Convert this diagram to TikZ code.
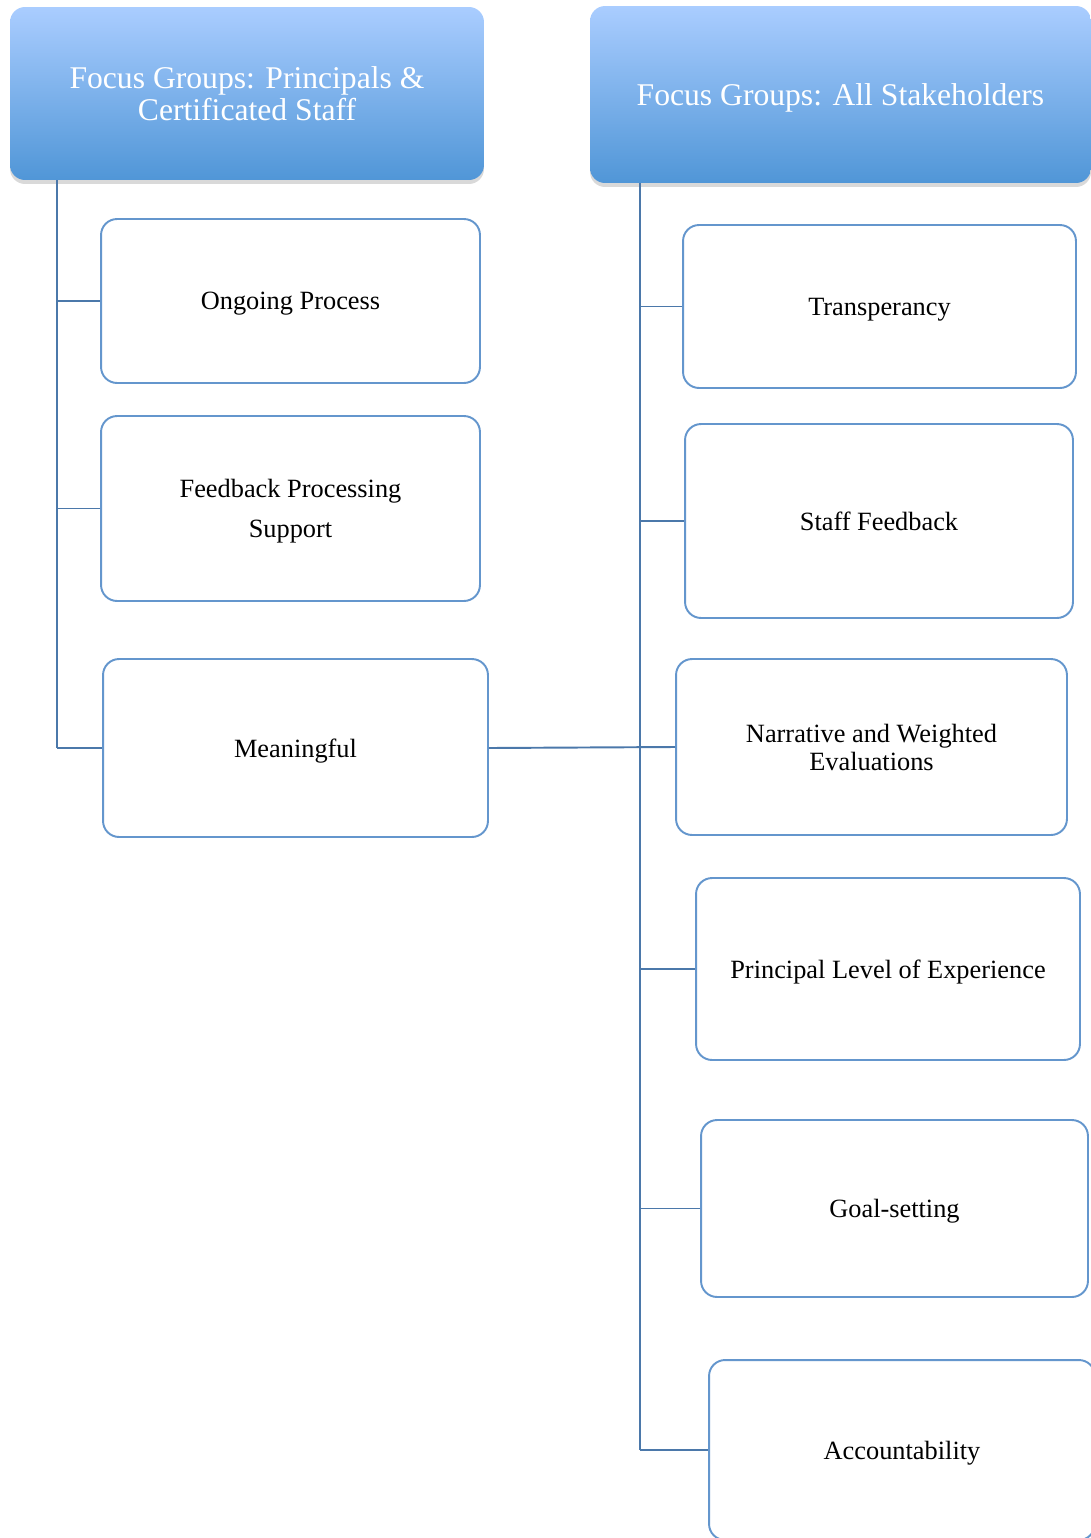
\documentclass[tikz,border=0pt]{standalone}
\usepackage{fontspec}
\setmainfont{Liberation Serif}
\usetikzlibrary{shadows}
\definecolor{fgTop}{RGB}{170,205,255}
\definecolor{fgBot}{RGB}{80,150,215}
\definecolor{fgEdge}{RGB}{100,150,205}
\definecolor{fgLink}{RGB}{75,120,170}
\tikzset{
  fghead/.style={rounded corners=0.3cm,top color=fgTop,bottom color=fgBot,text=white,align=center,
    font=\fontsize{18}{18}\selectfont,inner sep=0pt,text depth=0pt,
    drop shadow={shadow xshift=0pt,shadow yshift=-0.08cm,opacity=0.3}},
  fgitem/.style={draw=fgEdge,line width=1.1pt,rounded corners=0.32cm,fill=white,align=center,
    font=\fontsize{15}{16}\selectfont,inner sep=0pt,text depth=0pt},
  fglink/.style={draw=fgLink,line width=1.1pt},
}

\begin{document}
\begin{tikzpicture}[x=0.02cm,y=-0.02cm]
\useasboundingbox (0,0) rectangle (1091,1538);
\clip (0,0) rectangle (1091,1538);
%% two column heads, each with its own trunk
\node[fghead,minimum width=9.48cm,minimum height=3.46cm] (headL) at (247,93.5)
  {Focus Groups: Principals \&\\Certificated Staff};
\node[fghead,minimum width=10.02cm,minimum height=3.54cm] (headR) at (840.5,94.5)
  {Focus Groups: All Stakeholders};
% ---- left column
\foreach \nm/\cx/\cy/\w/\h/\txt in {
  ongoing/290.5/301/7.58/3.28/{Ongoing Process},
  feedback/290.5/508.5/7.58/3.70/{Feedback Processing\\[7pt]Support},
  meaning/295.5/748/7.70/3.56/{Meaningful}}{
  \node[fgitem,minimum width=\w cm,minimum height=\h cm] (\nm) at (\cx,\cy) {\txt};}
% ---- right column
\foreach \nm/\cx/\cy/\w/\h/\txt in {
  transp/879.5/306.5/7.86/3.26/{Transperancy},
  staff/879/521/7.76/3.88/{Staff Feedback},
  narrative/871.5/747/7.82/3.52/{Narrative and Weighted\\Evaluations},
  plevel/888/969/7.68/3.64/{Principal Level of Experience},
  goals/894.5/1208.5/7.74/3.54/{Goal-setting},
  accnt/902/1450/7.72/3.60/{Accountability}}{
  \node[fgitem,minimum width=\w cm,minimum height=\h cm] (\nm) at (\cx,\cy) {\txt};}
% trunks and branches
\coordinate (trunkL) at ([xshift=-3.8cm]headL.south);
\coordinate (trunkR) at ([xshift=-4.01cm]headR.south);
\draw[fglink] (trunkL) -- (trunkL |- meaning.west);
\draw[fglink] (trunkR) -- (trunkR |- accnt.west);
\foreach \nm in {ongoing,feedback,meaning}
  \draw[fglink] (trunkL |- \nm.west) -- (\nm.west);
\foreach \nm in {transp,staff,narrative,plevel,goals,accnt}
  \draw[fglink] (trunkR |- \nm.west) -- (\nm.west);
\draw[fglink] (meaning.east) -- (narrative.west);
\end{tikzpicture}
\end{document}
